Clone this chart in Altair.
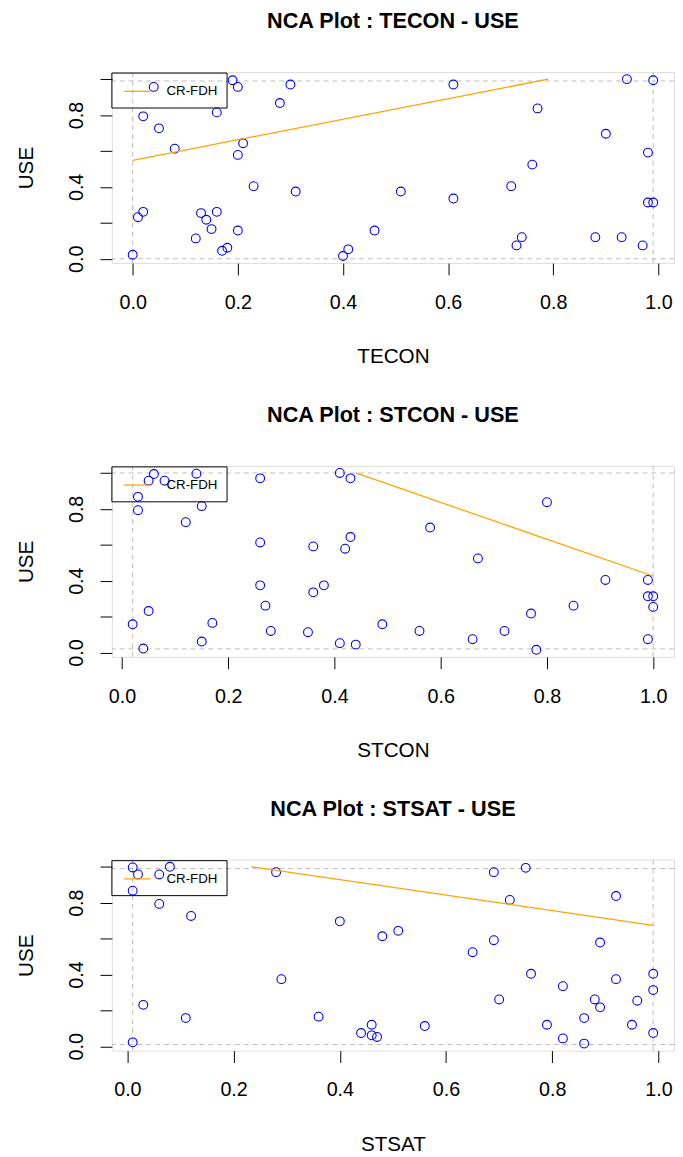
import altair as alt
import pandas as pd

# ---------------- data ----------------
TITLES = ["NCA Plot : TECON - USE", "NCA Plot : STCON - USE", "NCA Plot : STSAT - USE"]
XNAMES = ["TECON", "STCON", "STSAT"]

tecon = [0.04, 0.19, 0.20, 0.30, 0.28, 0.16, 0.02, 0.05, 0.08, 0.21, 0.20, 0.23, 0.31, 0.02, 0.01,
         0.13, 0.16, 0.14, 0.15, 0.20, 0.12, 0.17, 0.18, 0.00, 0.40, 0.41, 0.46, 0.61, 0.94, 0.99,
         0.77, 0.90, 0.98, 0.76, 0.51, 0.61, 0.72, 0.98, 0.99, 0.74, 0.73, 0.88, 0.93, 0.97]
use_1 = [0.957, 0.994, 0.957, 0.970, 0.867, 0.815, 0.793, 0.726, 0.613, 0.643, 0.578, 0.404, 0.374, 0.261, 0.231,
         0.254, 0.261, 0.217, 0.165, 0.157, 0.113, 0.044, 0.061, 0.022, 0.015, 0.052, 0.157, 0.970, 1.000, 0.994,
         0.837, 0.696, 0.591, 0.524, 0.374, 0.335, 0.404, 0.313, 0.313, 0.120, 0.074, 0.120, 0.120, 0.074]

stcon = [0.06, 0.05, 0.08, 0.14, 0.03, 0.03, 0.15, 0.12, 0.26, 0.26, 0.26, 0.27, 0.28, 0.05, 0.02,
         0.17, 0.15, 0.04, 0.35, 0.36, 0.36, 0.38, 0.41, 0.43, 0.43, 0.42, 0.41, 0.44, 0.49, 0.58,
         0.67, 0.80, 0.56, 0.66, 0.72, 0.77, 0.78, 0.85, 0.91, 0.99, 0.99, 1.00, 1.00, 0.99]
use_2 = [0.994, 0.957, 0.957, 0.996, 0.867, 0.793, 0.815, 0.726, 0.970, 0.613, 0.374, 0.261, 0.120, 0.231, 0.157,
         0.165, 0.061, 0.022, 0.113, 0.591, 0.335, 0.374, 1.000, 0.970, 0.643, 0.578, 0.052, 0.044, 0.157, 0.696,
         0.524, 0.837, 0.120, 0.074, 0.120, 0.217, 0.015, 0.261, 0.404, 0.404, 0.313, 0.313, 0.254, 0.074]

stsat = [0.01, 0.02, 0.08, 0.06, 0.01, 0.06, 0.12, 0.28, 0.29, 0.03, 0.11, 0.01, 0.36, 0.40, 0.48,
         0.51, 0.44, 0.46, 0.46, 0.47, 0.69, 0.75, 0.72, 0.92, 0.65, 0.69, 0.89, 0.56, 0.70, 0.76,
         0.82, 0.92, 0.99, 0.99, 0.88, 0.89, 0.96, 0.79, 0.86, 0.95, 0.82, 0.86, 0.99]
use_3 = [0.996, 0.957, 1.000, 0.957, 0.867, 0.793, 0.726, 0.970, 0.374, 0.231, 0.157, 0.022, 0.165, 0.696, 0.613,
         0.643, 0.074, 0.120, 0.061, 0.052, 0.970, 0.994, 0.815, 0.837, 0.524, 0.591, 0.578, 0.113, 0.261, 0.404,
         0.335, 0.374, 0.404, 0.313, 0.261, 0.217, 0.254, 0.120, 0.157, 0.120, 0.044, 0.015, 0.074]

# CR-FDH ceiling line end points
ceil_x = [[0.0, 0.79], [0.44, 1.0], [0.233, 0.99]]
ceil_y = [[0.548, 1.0], [1.0, 0.426], [1.0, 0.674]]

LEGEND_LABEL = "CR-FDH"
Y_TICKS = [0.0, 0.2, 0.4, 0.6, 0.8, 1.0]
X_TICKS = [0.0, 0.2, 0.4, 0.6, 0.8, 1.0]

# ---------------- styling ----------------
W, H = 571, 194
FONT = "Liberation Sans"
BLUE = "#0000FF"
ORANGE = "#FFA500"
GREY = "#BEBEBE"


def padded(vals):
    lo, hi = min(vals), max(vals)
    r = hi - lo
    return [lo - 0.04 * r, hi + 0.04 * r]


def panel(xs, ys, cx, cy, xname, title):
    df = pd.DataFrame({"x": xs, "y": ys})
    xs_scale = alt.Scale(domain=padded(xs), nice=False, zero=False)
    ys_scale = alt.Scale(domain=padded(ys), nice=False, zero=False)

    xaxis = alt.Axis(values=X_TICKS, format=".1f", title=xname, grid=False, domain=False,
                     tickSize=12, tickColor="black", tickWidth=1,
                     labelFont=FONT, labelFontSize=20, labelColor="black",
                     labelPadding=34, labelBaseline="alphabetic", labelFlush=False,
                     labelOverlap=False,
                     titleFont=FONT, titleFontSize=21, titleFontWeight="normal", titleColor="black",
                     titleX=W / 2, titleY=101, titleBaseline="alphabetic", titleAlign="center")
    yaxis = alt.Axis(values=Y_TICKS, title="USE", grid=False, domain=False,
                     labelExpr="(abs(datum.value) < 0.01 || abs(datum.value - 0.4) < 0.01 || abs(datum.value - 0.8) < 0.01) ? format(datum.value, '.1f') : ''",
                     tickSize=12, tickColor="black", tickWidth=1,
                     labelFont=FONT, labelFontSize=20, labelColor="black",
                     labelAngle=270, labelAlign="center", labelBaseline="alphabetic",
                     labelPadding=18, labelFlush=False, labelOverlap=False,
                     titleFont=FONT, titleFontSize=21, titleFontWeight="normal", titleColor="black",
                     titleAngle=270, titleX=-81, titleY=H / 2, titleBaseline="alphabetic",
                     titleAlign="center")

    base = alt.Chart(df)
    vrules = base.mark_rule(color=GREY, strokeDash=[5, 4], strokeWidth=1).transform_aggregate(
        lo="min(x)", hi="max(x)").transform_fold(["lo", "hi"], as_=["k", "v"]).encode(
        x=alt.X("v:Q", scale=xs_scale, axis=xaxis))
    hrules = base.mark_rule(color=GREY, strokeDash=[5, 4], strokeWidth=1).transform_aggregate(
        lo="min(y)", hi="max(y)").transform_fold(["lo", "hi"], as_=["k", "v"]).encode(
        y=alt.Y("v:Q", scale=ys_scale, axis=yaxis))
    pts = base.mark_point(shape="circle", filled=False, color=BLUE, size=80, strokeWidth=1.1,
                          opacity=1).encode(
        x=alt.X("x:Q", scale=xs_scale, axis=xaxis),
        y=alt.Y("y:Q", scale=ys_scale, axis=yaxis))
    cdf = pd.DataFrame({"x": cx, "y": cy})
    cline = alt.Chart(cdf).mark_line(color=ORANGE, strokeWidth=1.3, clip=True).encode(
        x=alt.X("x:Q", scale=xs_scale, axis=xaxis),
        y=alt.Y("y:Q", scale=ys_scale, axis=yaxis))

    one = pd.DataFrame({"label": [LEGEND_LABEL]})
    lbox = alt.Chart(one).mark_rect(fill="white", fillOpacity=0, stroke="black", strokeWidth=1).encode(
        x=alt.value(0), x2=alt.value(117), y=alt.value(1), y2=alt.value(36.5))
    lline = alt.Chart(one).mark_rule(color=ORANGE, strokeWidth=1.3).encode(
        x=alt.value(12.5), x2=alt.value(39), y=alt.value(19.5))
    ltext = alt.Chart(one).mark_text(align="left", baseline="middle", font=FONT, fontSize=13.5,
                                     color="black").encode(
        x=alt.value(55.5), y=alt.value(19.5), text="label:N")

    return alt.layer(vrules, hrules, pts, cline, lbox, lline, ltext).properties(
        width=W, height=H,
        title=alt.TitleParams(text=title, font=FONT, fontSize=22, fontWeight="bold", color="black",
                              anchor="middle", frame="group", baseline="alphabetic", offset=22))


panels = [
    panel(tecon, use_1, ceil_x[0], ceil_y[0], XNAMES[0], TITLES[0]),
    panel(stcon, use_2, ceil_x[1], ceil_y[1], XNAMES[1], TITLES[1]),
    panel(stsat, use_3, ceil_x[2], ceil_y[2], XNAMES[2], TITLES[2]),
]

chart = alt.vconcat(*panels, spacing=37).properties(
    padding={"left": 6.5, "top": -7, "right": 0, "bottom": 0}
).configure_view(stroke="black", strokeWidth=1).configure(font=FONT)

chart.save("out.html", embed_options={"renderer": "svg", "actions": False})
